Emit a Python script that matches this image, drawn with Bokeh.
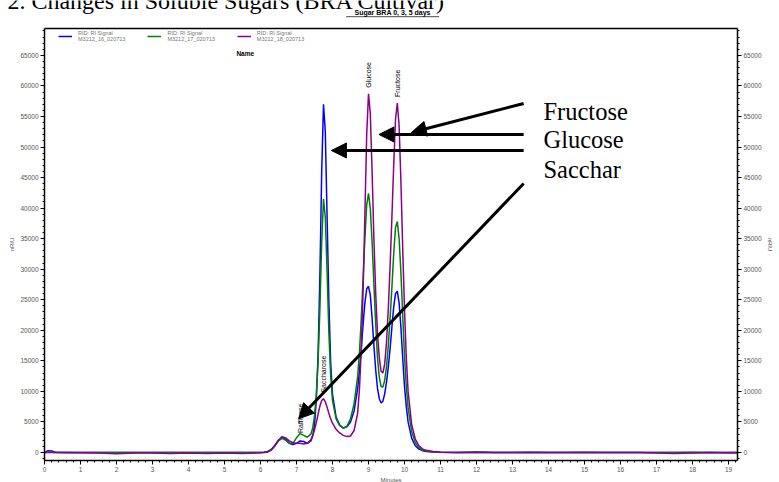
from bokeh.plotting import figure
from bokeh.models import (Range1d, LinearAxis, SingleIntervalTicker, FixedTicker, Legend,
                          LegendItem, Label, Arrow, NormalHead, ColumnDataSource)
from bokeh.embed import file_html
from bokeh.resources import INLINE
from bokeh.core.properties import value

# Retention time (minutes)
minutes = [
    0.0, 0.1, 0.2, 0.3, 0.5, 1.0, 1.5, 2.0, 2.5, 3.0, 3.5, 4.0, 4.5, 5.0, 5.5, 6.0,
    6.1, 6.2, 6.3, 6.4, 6.5, 6.6, 6.7, 6.8, 6.9, 7.0, 7.1, 7.2, 7.3, 7.4, 7.45,
    7.5, 7.55, 7.6, 7.65, 7.7, 7.75, 7.8, 7.85, 7.9, 7.95, 8.0,
    8.1, 8.2, 8.3, 8.4, 8.5, 8.6, 8.7,
    8.75, 8.8, 8.85, 8.9, 8.95, 9.0, 9.05, 9.1, 9.15, 9.2, 9.25, 9.3, 9.35, 9.4, 9.45,
    9.5, 9.55, 9.6, 9.65, 9.7, 9.75, 9.8, 9.85, 9.9, 9.95, 10.0, 10.05, 10.1,
    10.2, 10.3, 10.4, 10.5, 10.6, 10.8, 11.0,
    11.5, 12.0, 12.5, 13.0, 13.5, 14.0, 14.5, 15.0, 15.5, 16.0, 16.5, 17.0, 17.5, 18.0, 18.5, 19.0, 19.25,
]

# RI signal (nRIU), run M3212_16_020713
signal_16 = [
    0, 300, 250, 50, 0, 0, 0, 0, 0, 0, 0, 0, 0, 0, 0, 0,
    30, 150, 500, 1200, 2000, 2500, 2200, 1500, 1300, 1500, 1900, 1800, 1500, 1900, 2700,
    4500, 8500, 16000, 29000, 46000, 57000, 52500, 38500, 24500, 14500, 9500,
    5800, 4500, 4000, 4200, 5000, 6800, 10500,
    13500, 17000, 21000, 24500, 26800, 27200, 25800, 22000, 17500, 13500, 10500, 8800, 8100, 8400, 9600,
    11500, 14000, 17000, 20500, 23800, 26000, 26400, 24500, 20500, 15500, 10800, 7500, 5000,
    2300, 1100, 550, 300, 180, 80, 30,
    0, 20, 0, 0, 30, 0, 0, 0, 0, 0, 0, 0, 0, 0, 0, 0, 0,
]

# RI signal (nRIU), run M3212_17_020713
signal_17 = [
    0, 50, 50, 0, 0, 0, 0, 0, 0, 0, 0, 0, 0, 0, 0, 0,
    30, 120, 450, 1100, 1900, 2300, 2000, 1500, 1500, 2400, 3100, 2800, 2500, 3000, 4000,
    6000, 9500, 15000, 23500, 34500, 41500, 38500, 29500, 19500, 12500, 8500,
    5500, 4400, 4000, 4300, 5500, 8000, 12500,
    16500, 22000, 28500, 35000, 40500, 42400, 40000, 34500, 27500, 21000, 15500, 12300, 10800, 10700, 11800,
    14000, 17500, 22000, 27000, 32500, 36800, 37800, 35000, 29500, 22500, 15800, 10800, 7300,
    3400, 1600, 800, 400, 230, 100, 40,
    0, 120, 0, 0, 0, 0, 0, 60, 0, 0, 0, 0, 0, 60, 0, 0, 0,
]

# RI signal (nRIU), run M3212_18_020713
signal_18 = [
    0, 0, 0, 0, 0, -50, -100, -200, -100, -100, -150, -100, -150, -100, -150, -50,
    0, 100, 400, 1100, 2000, 2600, 2400, 1900, 1600, 1500, 1500, 1400, 1500, 2100, 2800,
    3700, 4900, 6300, 7600, 8500, 8800, 8300, 7400, 6400, 5500, 4800,
    3800, 3200, 2800, 2600, 2700, 3600, 6500,
    10500, 17000, 26500, 39000, 52000, 58700, 55500, 46000, 35000, 26000, 19500, 15500, 13300, 13000, 14500,
    18000, 23500, 30500, 38500, 47000, 54500, 57200, 53500, 44500, 33500, 23500, 15500, 10000,
    4500, 2200, 1100, 600, 350, 150, 60,
    0, 0, 0, 0, 0, 0, 0, 0, 0, 0, 0, -100, -150, -100, 0, -100, -50,
]

run_names = ["M3212_16_020713", "M3212_17_020713", "M3212_18_020713"]
run_colors = ["#0000FF", "#008000", "#8B008B"]

# Peak names and their retention times, labelled on the last run
peak_names = ["Raffinose", "Saccharose", "Glucose", "Fructose"]
peak_times = [7.1, 7.75, 9.0, 9.8]
peak_gaps = [1700, 1000, 1000, 1000]

# Axis extents of the chromatogram box
T_MIN, T_MAX = 0.0, 19.25
S_MIN, S_MAX = -1310, 69400

SANS = "Liberation Sans"
SERIF = "Liberation Serif"

# The drawing area covers the whole canvas; the axes sit at fixed data locations so
# that the page title can hang over the top-left corner.
W, H = 779, 482
PX_PER_MIN = 36.0
UNITS_PER_PX = 163.67
X0_PX, Y0_PX = 44, 452

p = figure(width=W, height=H, output_backend="svg", toolbar_location=None,
           x_range=Range1d(-X0_PX / PX_PER_MIN, (W - X0_PX) / PX_PER_MIN),
           y_range=Range1d(-(H - Y0_PX) * UNITS_PER_PX, Y0_PX * UNITS_PER_PX),
           min_border=0, x_axis_location=None, y_axis_location=None)
p.xgrid.visible = False
p.ygrid.visible = False
p.outline_line_color = None
p.background_fill_color = "white"
p.border_fill_color = "white"

x_bottom = LinearAxis(fixed_location=S_MIN, bounds=(T_MIN, T_MAX),
                      ticker=SingleIntervalTicker(interval=1, num_minor_ticks=5),
                      axis_label="Minutes", axis_label_standoff=2)
x_top = LinearAxis(fixed_location=S_MAX, bounds=(T_MIN, T_MAX), ticker=FixedTicker(ticks=[]))
y_left = LinearAxis(fixed_location=T_MIN, bounds=(S_MIN, S_MAX),
                    ticker=SingleIntervalTicker(interval=5000, num_minor_ticks=5),
                    axis_label="nRIU", axis_label_standoff=2)
y_right = LinearAxis(fixed_location=T_MAX, bounds=(S_MIN, S_MAX),
                     ticker=SingleIntervalTicker(interval=5000, num_minor_ticks=5),
                     axis_label="nRIU", axis_label_standoff=2)
p.add_layout(x_bottom, "below")
p.add_layout(x_top, "above")
p.add_layout(y_left, "left")
p.add_layout(y_right, "right")

for ax in [x_bottom, x_top, y_left, y_right]:
    ax.axis_line_color = "black"
    ax.axis_line_width = 1.5
    ax.major_tick_in = 0
    ax.major_tick_out = 4
    ax.minor_tick_in = 0
    ax.minor_tick_out = 2
    ax.major_tick_line_color = "black"
    ax.minor_tick_line_color = "black"
    ax.major_label_standoff = 2
    ax.major_label_text_font = SANS
    ax.major_label_text_font_size = "6.5px"
    ax.major_label_text_color = "#555555"
    ax.axis_label_text_font = SANS
    ax.axis_label_text_font_size = "6px"
    ax.axis_label_text_font_style = "normal"
    ax.axis_label_text_color = "#555555"
x_top.major_tick_out = 0
x_top.minor_tick_out = 0

src = ColumnDataSource(dict(t=minutes, s16=signal_16, s17=signal_17, s18=signal_18))
renderers = []
for col, color in zip(["s16", "s17", "s18"], run_colors):
    renderers.append(p.line("t", col, source=src, line_color=color, line_width=1.5))

legend = Legend(
    items=[LegendItem(label="RID: RI Signal\n" + name, renderers=[r])
           for name, r in zip(run_names, renderers)],
    orientation="horizontal", location=(58, 440),
    label_text_font=SANS, label_text_font_size="5.5px", label_text_color="#777777",
    glyph_width=14, glyph_height=12, label_height=12, label_standoff=6, spacing=22,
    padding=0, margin=0, background_fill_alpha=0, border_line_alpha=0,
)
p.add_layout(legend)

p.add_layout(Label(x=5.33, y=65300, text="Name", text_font=SANS, text_font_size="6.5px",
                   text_font_style="bold", text_baseline="middle", text_color="black"))

# Peak names above the last run's peaks
label_x = []
label_y = []
for t, gap in zip(peak_times, peak_gaps):
    i = minutes.index(t)
    label_x.append(t)
    label_y.append(signal_18[i] + gap)
p.text(x=label_x, y=label_y, text=peak_names, angle=1.5708, text_align="left",
       text_baseline="middle", text_font=value(SANS), text_font_size="7px", text_color="black")

# Titles
p.add_layout(Label(x=-1.03, y=73850, text="2. Changes in Soluble Sugars (BRA Cultivar)",
                   text_font=SERIF, text_font_size="24px", text_color="black",
                   text_baseline="alphabetic"))
p.add_layout(Label(x=9.67, y=71520, text="Sugar BRA 0, 3, 5 days", text_font=SANS,
                   text_font_size="7px", text_font_style="bold", text_align="center",
                   text_baseline="bottom", text_color="black"))
p.add_layout(Arrow(end=None, x_start=8.38, x_end=10.96, y_start=71330, y_end=71330,
                   line_color="black", line_width=0.7))

# Arrows pointing from the sugar names to their peaks
def head():
    return NormalHead(size=15, fill_color="black", line_color="black")

arrows = [
    (13.31, 57120, 10.19, 52370),
    (13.31, 52050, 9.29, 52050),
    (13.31, 49430, 7.97, 49430),
    (13.31, 44030, 7.06, 5520),
]
for xs, ys, xe, ye in arrows:
    p.add_layout(Arrow(end=head(), x_start=xs, y_start=ys, x_end=xe, y_end=ye,
                       line_color="black", line_width=3))

for txt, y in [("Fructose", 55810), ("Glucose", 51220), ("Sacchar", 46310)]:
    p.add_layout(Label(x=13.86, y=y, text=txt, text_font=SERIF, text_font_size="24.5px",
                       text_color="black", text_baseline="alphabetic"))

open("out.html", "w").write(file_html(p, INLINE))
